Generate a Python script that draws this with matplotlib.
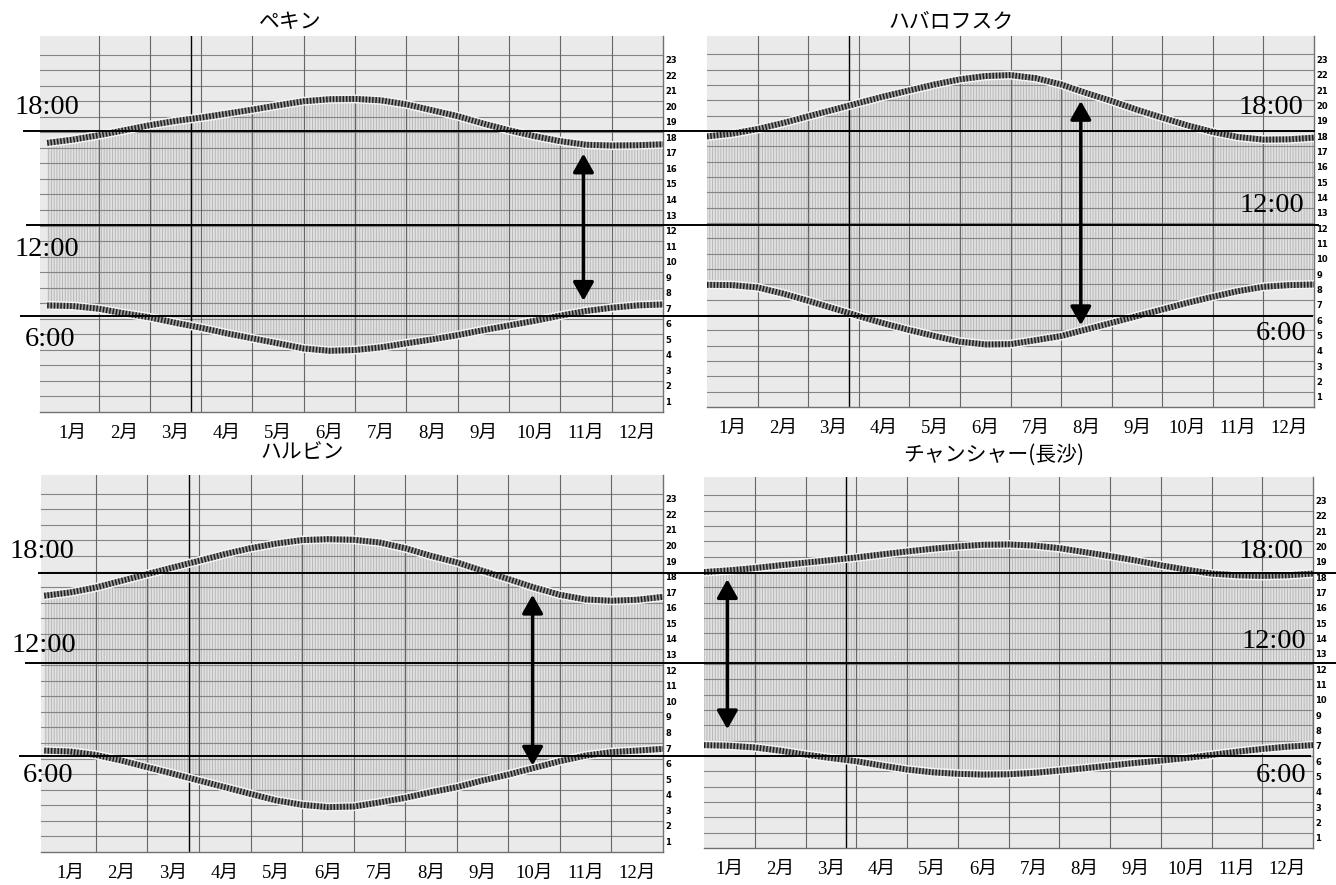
import numpy as np
import matplotlib.pyplot as plt
from matplotlib import transforms
from matplotlib.lines import Line2D

# sample positions (month units, 0 = 1 Jan, 12 = 31 Dec), read every half month
month_pos = np.arange(0, 12.5, 0.5)
months = ['1月', '2月', '3月', '4月', '5月', '6月', '7月', '8月', '9月', '10月', '11月', '12月']
titles = ['ペキン', 'ハバロフスク', 'ハルビン', 'チャンシャー(長沙)']

peking_sunset = [17.32, 17.53, 17.81, 18.13, 18.46, 18.73, 18.95, 19.2, 19.46, 19.74, 20.0, 20.13, 20.15,
                 20.06, 19.8, 19.42, 19.04, 18.56, 18.13, 17.75, 17.43, 17.2, 17.15, 17.17, 17.23]
peking_sunrise = [6.86, 6.82, 6.65, 6.35, 6.09, 5.74, 5.42, 5.06, 4.74, 4.42, 4.09, 3.94, 3.99,
                  4.16, 4.42, 4.67, 4.95, 5.27, 5.57, 5.87, 6.2, 6.5, 6.71, 6.86, 6.92]
khabarovsk_sunset = [17.65, 17.83, 18.13, 18.52, 18.96, 19.39, 19.83, 20.26, 20.65, 21.04, 21.37, 21.59, 21.65,
                     21.45, 21.04, 20.48, 19.96, 19.39, 18.87, 18.37, 17.94, 17.61, 17.44, 17.46, 17.57]
khabarovsk_sunrise = [7.97, 7.95, 7.8, 7.4, 6.93, 6.43, 5.93, 5.45, 5.02, 4.63, 4.26, 4.08, 4.1,
                      4.36, 4.63, 5.06, 5.49, 5.93, 6.36, 6.8, 7.19, 7.56, 7.84, 7.95, 7.99]
harbin_sunset = [16.45, 16.66, 16.98, 17.41, 17.84, 18.27, 18.69, 19.12, 19.5, 19.8, 20.02, 20.08, 20.04,
                 19.87, 19.5, 19.01, 18.59, 18.05, 17.52, 16.98, 16.51, 16.21, 16.13, 16.19, 16.38]
harbin_sunrise = [6.51, 6.45, 6.23, 5.87, 5.44, 5.02, 4.59, 4.16, 3.73, 3.31, 3.03, 2.88, 2.92,
                  3.18, 3.48, 3.84, 4.16, 4.59, 4.97, 5.4, 5.83, 6.19, 6.41, 6.51, 6.62]
changsha_sunset = [18.0, 18.11, 18.26, 18.44, 18.61, 18.78, 18.95, 19.15, 19.34, 19.52, 19.67, 19.78, 19.8,
                   19.73, 19.56, 19.3, 19.04, 18.76, 18.44, 18.16, 17.9, 17.79, 17.75, 17.79, 17.9]
changsha_sunrise = [6.71, 6.67, 6.56, 6.35, 6.09, 5.87, 5.66, 5.38, 5.12, 4.94, 4.84, 4.79, 4.81,
                    4.9, 5.05, 5.2, 5.38, 5.55, 5.7, 5.87, 6.07, 6.28, 6.46, 6.61, 6.71]

sunsets = [peking_sunset, khabarovsk_sunset, harbin_sunset, changsha_sunset]
sunrises = [peking_sunrise, khabarovsk_sunrise, harbin_sunrise, changsha_sunrise]

arrow_month = [10.45, 7.39, 9.47, 0.46]
arrow_top = [16.63, 19.96, 16.51, 17.53]
arrow_bottom = [7.16, 5.34, 5.55, 7.75]
equinox_month = 2.8
hours = list(range(1, 24))

ref_labels = ['18:00', '12:00', '6:00']
ref_hours_top = [18.07, 12.03, 6.2]
ref_hours_bottom = [17.94, 12.13, 6.19]

# ---- layout (pixels) ----
W, H = 1336, 885
panel_px = [(40, 36, 663, 412), (707, 36, 1314, 407), (41, 475, 663, 852), (704, 477, 1313, 848)]
panel_x0 = [-0.14, 0, -0.064, 0]
title_px = [(290, 22), (951, 22), (302, 452), (994, 455)]
ref_line_px = [[(24, 1314), (27, 1318), (21, 1312)], [(39, 1336), (26, 1336), (20, 1310)]]
ref_label_px = [[(47, 108), (47, 249), (50, 340)],
                [(1271, 108), (1272, 205), (1281, 333)],
                [(42, 552), (44, 645), (48, 776)],
                [(1271, 552), (1274, 642), (1281, 776)]]

plt.rcParams['font.family'] = ['Liberation Serif', 'Noto Sans CJK JP']
plt.rcParams['hatch.linewidth'] = 0.7

fig = plt.figure(figsize=(W / 100, H / 100), dpi=100)


def rect(l, t, r, b):
    return [l / W, 1 - b / H, (r - l) / W, (b - t) / H]


axes = []
for i in range(4):
    ax = fig.add_axes(rect(*panel_px[i]))
    axes.append(ax)
    ax.set_xlim(panel_x0[i], 12)
    ax.set_ylim(0, 24.2)
    ax.set_facecolor('#eaeaea')

    ax.fill_between(month_pos, sunrises[i], sunsets[i], facecolor='#e1e1e1',
                    edgecolor='#b8b8b8', hatch='||||||', lw=0, zorder=1)
    for h in hours:
        ax.axhline(h, color='#858585', lw=0.8, zorder=2)
    for m in range(1, 12):
        ax.axvline(m, color='#666666', lw=0.8, zorder=2)
    ax.axvline(equinox_month, color='black', lw=1, zorder=2)

    for curve in (sunrises[i], sunsets[i]):
        ax.plot(month_pos, curve, color='#f4f4f4', lw=6.5, zorder=3, solid_capstyle='butt')
        ax.plot(month_pos, curve, color='#9c9c9c', lw=4.3, zorder=3.1, solid_capstyle='butt')
        ax.plot(month_pos, curve, color='#1e1e1e', lw=4.3, ls=(0, (0.25, 0.3)), zorder=3.2)

    ax.annotate('', xy=(arrow_month[i], arrow_top[i]), xytext=(arrow_month[i], arrow_bottom[i]),
                arrowprops=dict(arrowstyle='<|-|>,head_length=0.8,head_width=0.45', mutation_scale=14,
                                lw=2.5, color='black', shrinkA=0, shrinkB=0), zorder=6)

    lab_tr = transforms.blended_transform_factory(ax.transAxes, ax.transData)
    for h in hours:
        ax.text(1.004, h - 0.1, str(h), transform=lab_tr, ha='left', va='top',
                fontsize=6, fontweight='bold', family='DejaVu Sans')

    ax.set_xticks(np.arange(12) + 0.5)
    ax.set_xticklabels(months, fontsize=13.5)
    ax.set_yticks([])
    ax.tick_params(axis='x', length=0, pad=9)
    for s in ('left', 'top'):
        ax.spines[s].set_visible(False)
    for s in ('bottom', 'right'):
        ax.spines[s].set_color('#707070')
        ax.spines[s].set_linewidth(1)

    cx, cy = title_px[i]
    fig.text(cx / W, 1 - cy / H, titles[i], ha='center', va='center', fontsize=15,
             family='Noto Sans CJK JP')

    for lab, (lx, ly) in zip(ref_labels, ref_label_px[i]):
        fig.text(lx / W, 1 - ly / H, lab, ha='center', va='center', fontsize=20.5,
                 family='Liberation Serif', zorder=7)

# reference lines run across both panels of a row
for row, hrs in ((0, ref_hours_top), (1, ref_hours_bottom)):
    ax = axes[row * 2]
    tr = transforms.blended_transform_factory(fig.transFigure, ax.transData)
    for h, (x1, x2) in zip(hrs, ref_line_px[row]):
        fig.add_artist(Line2D([x1 / W, x2 / W], [h, h], transform=tr, color='black', lw=1.4, zorder=5))

fig.savefig('out.png', dpi=100)
